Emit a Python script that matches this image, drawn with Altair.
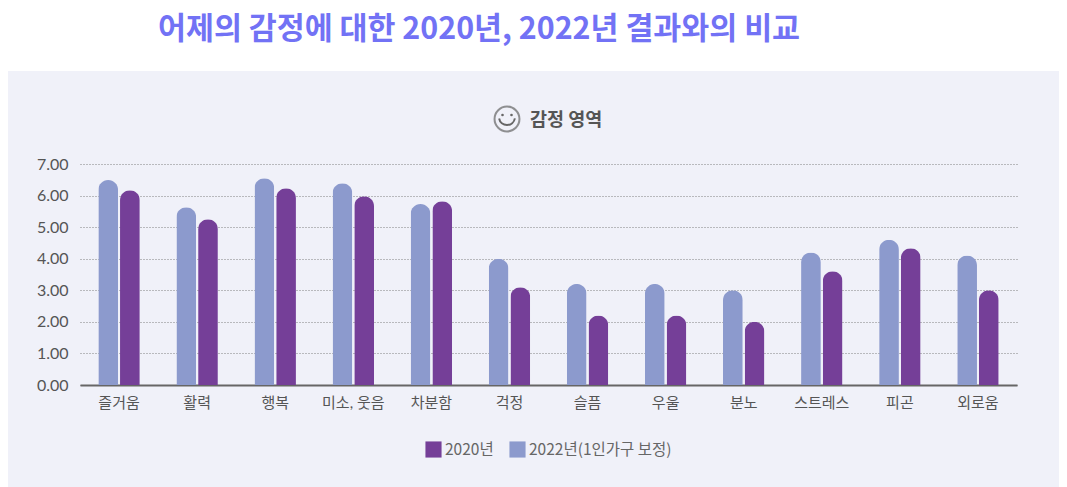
import altair as alt
import pandas as pd

categories = ["즐거움", "활력", "행복", "미소, 웃음", "차분함", "걱정", "슬픔", "우울", "분노", "스트레스", "피곤", "외로움"]
values_2020 = [6.17, 5.25, 6.23, 5.98, 5.82, 3.10, 2.20, 2.20, 2.00, 3.60, 4.33, 3.00]
values_2022 = [6.49, 5.63, 6.55, 6.39, 5.73, 4.00, 3.20, 3.20, 3.00, 4.20, 4.60, 4.10]
series_names = ["2020년", "2022년(1인가구 보정)"]
series_colors = ["#753f98", "#8c9acd"]
title_text = "어제의 감정에 대한 2020년, 2022년 결과와의 비교"
subtitle_text = "감정 영역"

FONT = "Lato, Noto Sans CJK KR, sans-serif"
KR = "Noto Sans CJK KR, sans-serif"

rows = []
for c, a, b in zip(categories, values_2020, values_2022):
    rows.append({"cat": c, "series": series_names[0], "value": a})
    rows.append({"cat": c, "series": series_names[1], "value": b})
df = pd.DataFrame(rows)
one = pd.DataFrame({"a": [0]})

bars = alt.Chart(df).mark_bar(
    cornerRadiusTopLeft=10, cornerRadiusTopRight=10
).encode(
    x=alt.X("cat:N", sort=categories, title=None,
            scale=alt.Scale(paddingInner=0.469, paddingOuter=0.2345),
            axis=alt.Axis(labelAngle=0, labelFont=FONT, labelFontSize=15, labelColor="#555555",
                          labelPadding=10, ticks=False, domainColor="#666666", domainWidth=2,
                          grid=False, labelLimit=120)),
    xOffset=alt.XOffset("series:N", sort=series_names[::-1],
                        scale=alt.Scale(domain=series_names[::-1], paddingInner=0.09)),
    y=alt.Y("value:Q", title=None,
            scale=alt.Scale(domain=[0, 7], nice=False),
            axis=alt.Axis(values=list(range(8)), format=".2f", labelFont=FONT, labelFontSize=16,
                          labelColor="#555555", labelPadding=12, ticks=False, domain=False,
                          grid=True, gridColor="#808080", gridDash=[1, 2], gridWidth=1)),
    color=alt.Color("series:N",
                    scale=alt.Scale(domain=series_names, range=series_colors),
                    legend=alt.Legend(title=None, orient="none", direction="horizontal",
                                      legendX=345, legendY=277, symbolType="square", symbolSize=260,
                                      symbolStrokeWidth=0, labelFont=KR, labelFontSize=15.5,
                                      labelColor="#666666", labelOffset=3, columnPadding=15,
                                      padding=0)),
)

header_band = alt.Chart(one).mark_rect(color="white").encode(
    x=alt.value(-72), x2=alt.value(979), y=alt.value(-156), y2=alt.value(-93)
)
subtitle = alt.Chart(pd.DataFrame({"t": [subtitle_text]})).mark_text(
    font=KR, fontSize=18.5, fontWeight="bold", color="#555555", align="left", baseline="middle"
).encode(x=alt.value(450), y=alt.value(-44), text="t:N")
face = alt.Chart(one).mark_point(shape="circle", size=620, filled=False, color="#666666", strokeWidth=2).encode(
    x=alt.value(427), y=alt.value(-45)
)
eye_l = alt.Chart(one).mark_point(shape="circle", size=7, filled=True, color="#666666", opacity=1).encode(
    x=alt.value(422.5), y=alt.value(-49)
)
eye_r = alt.Chart(one).mark_point(shape="circle", size=7, filled=True, color="#666666", opacity=1).encode(
    x=alt.value(431.5), y=alt.value(-49)
)
smile = alt.Chart(one).mark_arc(
    radius=8, radius2=8, theta=1.75, theta2=4.53, stroke="#666666", strokeWidth=2, fillOpacity=0
).encode(x=alt.value(427), y=alt.value(-47))

chart = alt.layer(header_band, bars, subtitle, face, eye_l, eye_r, smile).properties(
    width=937,
    height=221,
    background="#f0f1f9",
    padding={"left": 72, "top": 156, "right": 42, "bottom": 102},
    autosize=alt.AutoSizeParams(type="none"),
    title=alt.TitleParams(title_text, anchor="start", frame="group", dx=78, offset=-37,
                          font=KR, fontSize=30.4, fontWeight="bold", color="#7272f5"),
).configure_view(stroke=None)

chart.save("out.html", embed_options={"renderer": "svg", "actions": False})
